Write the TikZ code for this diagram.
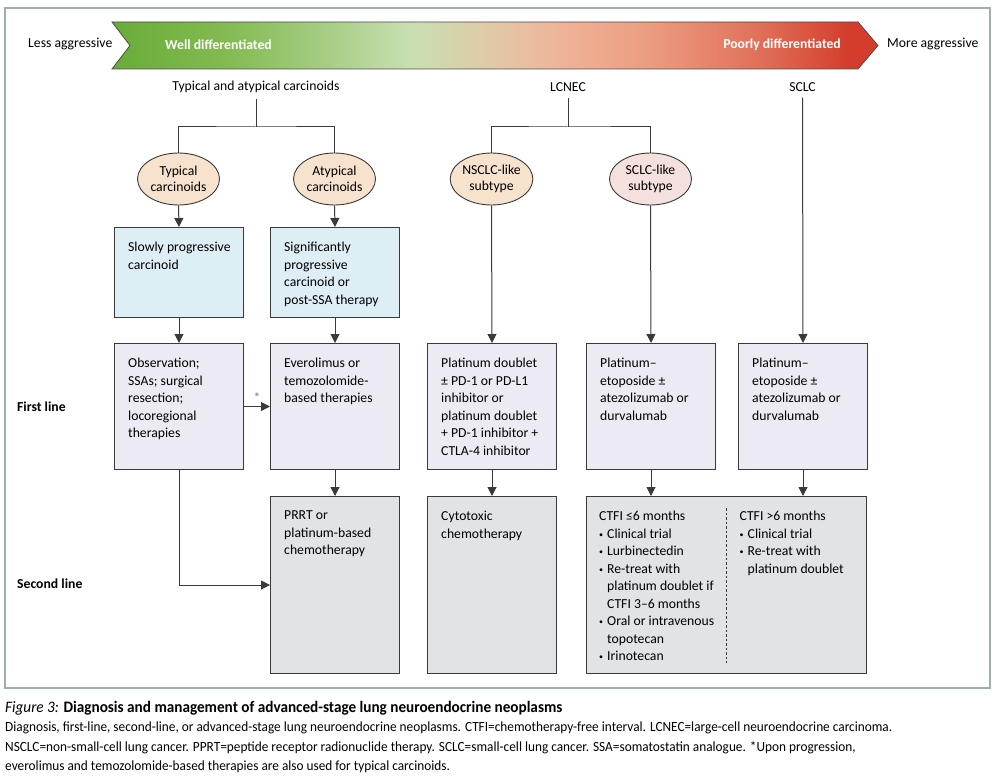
\documentclass[tikz,border=0pt]{standalone}
\usepackage{fontspec}
\setmainfont{Carlito}
\newfontfamily\capfamily[FakeStretch=0.95]{Carlito}
\usetikzlibrary{arrows.meta,shapes.geometric,positioning}

\definecolor{linegray}{HTML}{3A3A3A}
\definecolor{framegray}{HTML}{9BB1AA}
\definecolor{paleblue}{HTML}{DDEEF4}
\definecolor{palelilac}{HTML}{ECEBF4}
\definecolor{palegray}{HTML}{E2E3E5}
\definecolor{peach}{HTML}{F6E2CD}
\definecolor{rosy}{HTML}{F4E0DC}
\definecolor{bgreen}{HTML}{68AC37}
\definecolor{bgreenmid}{HTML}{84BB53}
\definecolor{bgreenlight}{HTML}{A8CE86}
\definecolor{bpale}{HTML}{C9DFB3}
\definecolor{bbeige}{HTML}{E3C6A5}
\definecolor{bpeach}{HTML}{EFB498}
\definecolor{bsalmon}{HTML}{EC9C80}
\definecolor{bcoral}{HTML}{E07058}
\definecolor{bred}{HTML}{D43C2B}

\pgfdeclarehorizontalshading{bannershade}{100bp}{color(0bp)=(bgreen); color(25bp)=(bgreen);
  color(32.7bp)=(bgreenmid); color(39.2bp)=(bgreenlight); color(44.5bp)=(bpale);
  color(50.3bp)=(bbeige); color(54.2bp)=(bpeach); color(60.1bp)=(bsalmon);
  color(67.3bp)=(bcoral); color(73.2bp)=(bred); color(75bp)=(bred); color(100bp)=(bred)}

\newcommand{\boxfont}{\fontsize{13.7pt}{17.5pt}\selectfont}
\newcommand{\tagfont}{\fontsize{13.7pt}{16pt}\selectfont}
\newcommand{\capfont}{\capfamily\fontsize{14pt}{19.3pt}\selectfont}
\newcommand{\captitle}{\fontsize{16pt}{19.3pt}\selectfont}
\newcommand{\bul}{\makebox[8pt][l]{\raisebox{1.2pt}{\fontsize{8pt}{8pt}\selectfont •}}}
\newcommand{\ind}{\hspace*{8pt}}

\begin{document}
\begin{tikzpicture}[x=1pt, y=-1pt,
    cell/.style={rectangle, draw=linegray, line width=1pt, minimum width=129pt,
                 inner sep=0pt, anchor=north west},
    bluecell/.style={cell, fill=paleblue, minimum height=90pt},
    firstcell/.style={cell, fill=palelilac, minimum height=126pt},
    secondcell/.style={cell, fill=palegray, minimum height=177pt},
    tag/.style={ellipse, draw=linegray, line width=0.9pt, minimum width=82pt,
                minimum height=52pt, inner sep=0pt, align=center, font=\tagfont},
    celltext/.style={anchor=north west, inner sep=0pt, align=left, font=\boxfont},
    head/.style={inner sep=0pt, font=\boxfont},
    banner/.style={head, text=white, font=\boxfont\bfseries},
    rowlabel/.style={anchor=west, inner sep=0pt, font=\boxfont\bfseries},
    arrow/.style={-{Triangle[length=9pt,width=9pt]}, line width=1pt, color=linegray},
    link/.style={line width=1pt, color=linegray},
    divider/.style={line width=1.2pt, color=linegray, dash pattern=on 2.5pt off 2pt}
  ]
  \useasboundingbox (0,0) rectangle (1000,778);

  % frame and gradient banner
  \draw[framegray, line width=1.5pt] (5,8) rectangle (990,688);
  \shadedraw[shading=bannershade, draw=black!70, line width=0.8pt]
    (112,22) -- (858,22) -- (878,45.5) -- (858,69) -- (112,69) -- (130,45.5) -- cycle;
  \node[head, anchor=west] (less) at (28,44) {Less aggressive};
  \node[banner, anchor=west] (well) at (165,45) {Well differentiated};
  \node[banner, anchor=east] (poorly) at (841,45) {Poorly differentiated};
  \node[head, anchor=west] (more) at (887,44) {More aggressive};

  % tumour types
  \node[head] (carcinoids) at (256,87) {Typical and atypical carcinoids};
  \node[head] (lcnec) at (568,87) {LCNEC};
  \node[head] (sclc) at (802.5,87) {SCLC};
  \coordinate (bar1) at (256,127);
  \coordinate (bar2) at (568,127);

  \node[tag, fill=peach] (typical) at (178.5,179) {Typical\\carcinoids};
  \node[tag, fill=peach] (atypical) at (334.5,179) {Atypical\\carcinoids};
  \node[tag, fill=peach] (nsclclike) at (491.5,179) {NSCLC-like\\subtype};
  \node[tag, fill=rosy] (sclclike) at (650.5,179) {SCLC-like\\subtype};

  % boxes
  \node[bluecell] (slowly) at (114,227) {};
  \node[bluecell] (signif) at (270,227) {};
  \node[firstcell] (obs) at (114,343) {};
  \node[firstcell] (evero) at (270,343) {};
  \node[firstcell] (platdoub) at (427,343) {};
  \node[firstcell] (platetop) at (586,343) {};
  \node[firstcell] (platetopb) at (738,343) {};
  \node[secondcell] (prrt) at (270,496) {};
  \node[secondcell] (cytotox) at (427,496) {};
  \node[secondcell, minimum width=280pt] (ctfi) at (586,496) {};

  \node[celltext] (slowly-t) at ([shift={(14,15)}]slowly.north west) {Slowly progressive\\carcinoid};
  \node[celltext] (signif-t) at ([shift={(14,15)}]signif.north west) {Significantly\\progressive\\carcinoid or\\post-SSA therapy};
  \node[celltext] (obs-t) at ([shift={(14,15)}]obs.north west) {Observation;\\SSAs; surgical\\resection;\\locoregional\\therapies};
  \node[celltext] (evero-t) at ([shift={(14,15)}]evero.north west) {Everolimus or\\temozolomide-\\based therapies};
  \node[celltext] (platdoub-t) at ([shift={(14,15)}]platdoub.north west) {Platinum doublet\\± PD-1 or PD-L1\\inhibitor or\\platinum doublet\\+ PD-1 inhibitor +\\CTLA-4 inhibitor};
  \node[celltext] (platetop-t) at ([shift={(14,15)}]platetop.north west) {Platinum–\\etoposide ±\\atezolizumab or\\durvalumab};
  \node[celltext] (platetopb-t) at ([shift={(14,15)}]platetopb.north west) {Platinum–\\etoposide ±\\atezolizumab or\\durvalumab};
  \node[celltext] (prrt-t) at ([shift={(14,15)}]prrt.north west) {PRRT or\\platinum-based\\chemotherapy};
  \node[celltext] (cytotox-t) at ([shift={(14,15)}]cytotox.north west) {Cytotoxic\\chemotherapy};
  \node[celltext] (ctfi-short) at ([shift={(13,15)}]ctfi.north west) {CTFI ≤6 months\\\bul Clinical trial\\\bul Lurbinectedin\\\bul Re-treat with\\\ind platinum doublet if\\\ind CTFI 3–6 months\\\bul Oral or intravenous\\\ind topotecan\\\bul Irinotecan};
  \node[celltext] (ctfi-long) at ([shift={(13,15)}]ctfi.north) {CTFI >6 months\\\bul Clinical trial\\\bul Re-treat with\\\ind platinum doublet};
  \draw[divider] ([yshift=-12pt]ctfi.north) -- ([yshift=11pt]ctfi.south);

  % row labels
  \node[rowlabel] (firstline) at (17,407) {First line};
  \node[rowlabel] (secondline) at (17,584) {Second line};

  % connectors
  \draw[link] ([yshift=-6pt]carcinoids.south) -- (bar1);
  \draw[link] (typical.north) |- (bar1) -| (atypical.north);
  \draw[link] ([yshift=-6pt]lcnec.south) -- (bar2);
  \draw[link] (nsclclike.north) |- (bar2) -| (sclclike.north);
  \draw[arrow] (typical.south) -- (slowly.north);
  \draw[arrow] (atypical.south) -- (signif.north);
  \draw[arrow] (slowly.south) -- (obs.north);
  \draw[arrow] (signif.south) -- (evero.north);
  \draw[arrow] (nsclclike.south) -- (platdoub.north);
  \draw[arrow] (sclclike.south) -- (platetop.north);
  \draw[arrow] ([yshift=-6pt]sclc.south) -- (platetopb.north);
  \draw[arrow] (obs.east) -- (evero.west)
    node[midway, above=4pt, inner sep=0pt, font=\boxfont, text=black!55] (star) {*};
  \draw[arrow] (obs.south) |- (prrt.west);
  \draw[arrow] (evero.south) -- (prrt.north);
  \draw[arrow] (platdoub.south) -- (cytotox.north);
  \draw[arrow] (platetop.south) -- (platetop.south |- ctfi.north);
  \draw[arrow] (platetopb.south) -- (platetopb.south |- ctfi.north);

  % caption
  \node[anchor=north west, inner sep=0pt, align=left, font=\capfont] (caption) at (5,701)
    {{\captitle\textit{Figure 3:} \textbf{Diagnosis and management of advanced-stage lung neuroendocrine neoplasms}}\\
     Diagnosis, first-line, second-line, or advanced-stage lung neuroendocrine neoplasms. CTFI=chemotherapy-free interval. LCNEC=large-cell neuroendocrine carcinoma.\\
     NSCLC=non-small-cell lung cancer. PPRT=peptide receptor radionuclide therapy. SCLC=small-cell lung cancer. SSA=somatostatin analogue. *Upon progression,\\
     everolimus and temozolomide-based therapies are also used for typical carcinoids.};
\end{tikzpicture}
\end{document}
